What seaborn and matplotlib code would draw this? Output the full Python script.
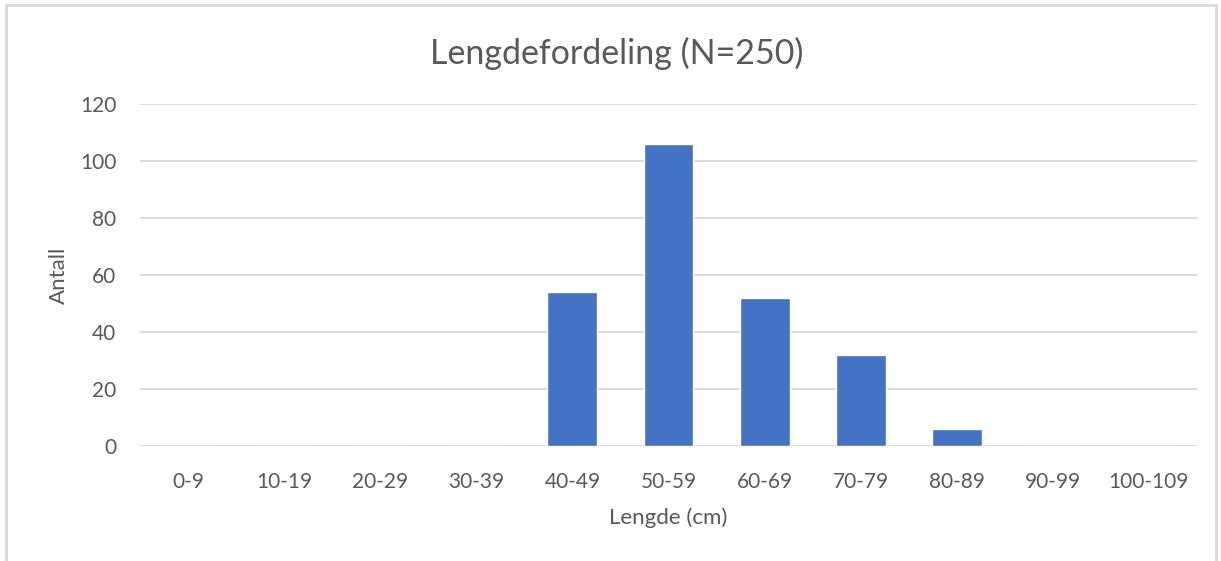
import matplotlib
matplotlib.use("Agg")
import matplotlib.pyplot as plt
import seaborn as sns
import pandas as pd
from matplotlib.patches import Rectangle

# data
categories = ["0-9", "10-19", "20-29", "30-39", "40-49", "50-59",
              "60-69", "70-79", "80-89", "90-99", "100-109"]
counts = [0, 0, 0, 0, 54, 106, 52, 32, 6, 0, 0]
yticks = [0, 20, 40, 60, 80, 100, 120]

df = pd.DataFrame({"Lengde": categories, "Antall": counts})

sns.set_theme(style="white")
plt.rcParams["font.family"] = ["Lato", "DejaVu Sans"]
text_col = "#595959"
grid_col = "#D9D9D9"

fig = plt.figure(figsize=(12.21, 5.61), dpi=100)
ax = fig.add_axes([0.1147, 0.205, 0.8656, 0.6096])

sns.barplot(data=df, x="Lengde", y="Antall", color="#4472C4",
            width=0.52, saturation=1, ax=ax, zorder=3)

ax.set_ylim(0, 120)
ax.set_yticks(yticks)
ax.set_xlim(-0.5, len(categories) - 0.5)
ax.yaxis.grid(True, color=grid_col, linewidth=1.3, zorder=0)
ax.set_axisbelow(True)
for s in ax.spines.values():
    s.set_visible(False)
ax.tick_params(axis="both", length=0, labelsize=15, colors=text_col)
ax.tick_params(axis="y", pad=17)
ax.tick_params(axis="x", pad=19)

ax.set_xlabel("Lengde (cm)", fontsize=16, color=text_col, labelpad=11)
ax.set_ylabel("Antall", fontsize=16, color=text_col, labelpad=8)
fig.text(0.505, 0.905, "Lengdefordeling (N=250)", ha="center", va="center",
         fontsize=24.5, color=text_col)

# light chart frame like the spreadsheet export
fig.add_artist(Rectangle((6 / 1221, -0.05), 1210 / 1221, 1.05 - 5.5 / 561,
                         transform=fig.transFigure, fill=False,
                         edgecolor=grid_col, linewidth=2))

fig.savefig("out.png", dpi=100)
